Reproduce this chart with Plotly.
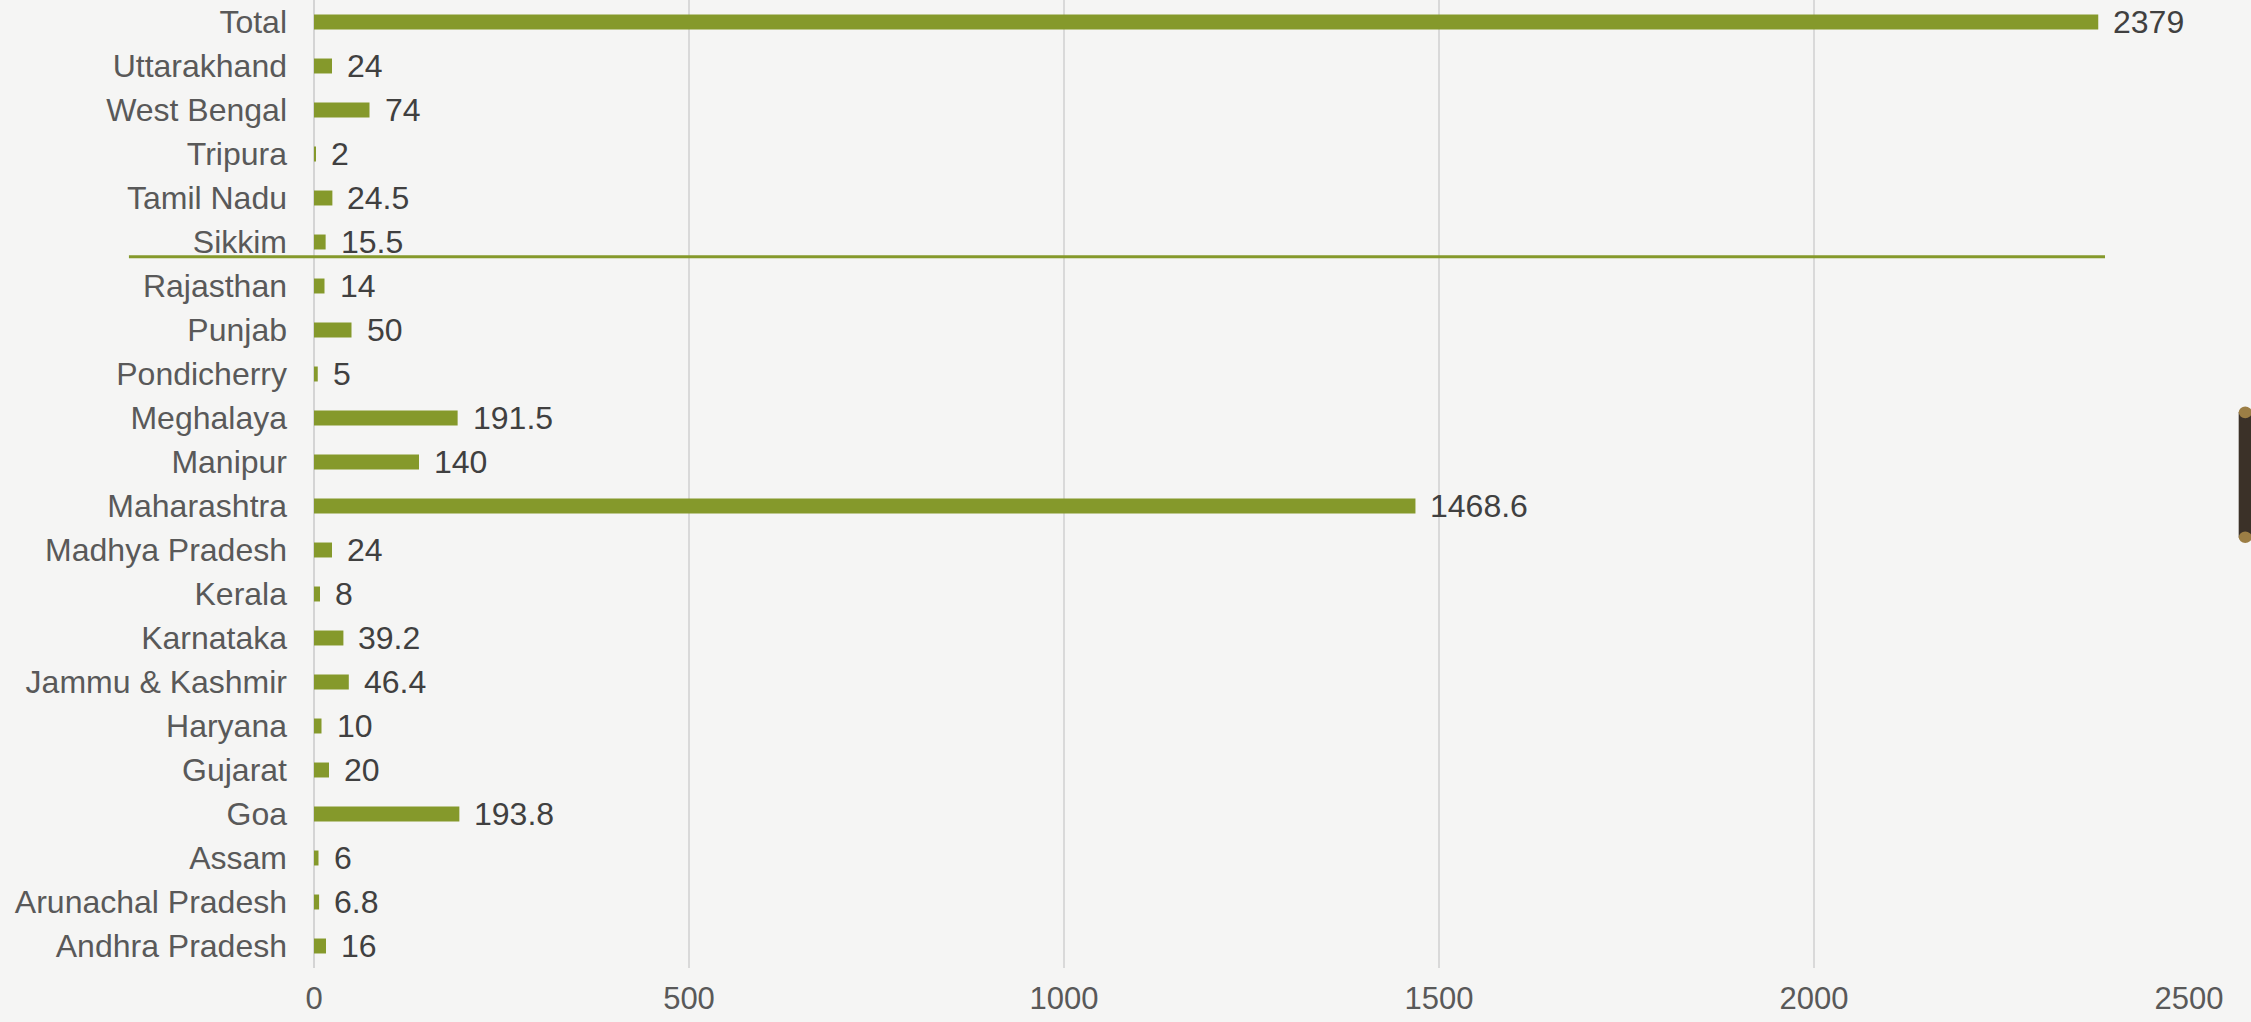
import plotly.graph_objects as go

categories = ["Andhra Pradesh", "Arunachal Pradesh", "Assam", "Goa", "Gujarat", "Haryana",
              "Jammu & Kashmir", "Karnataka", "Kerala", "Madhya Pradesh", "Maharashtra",
              "Manipur", "Meghalaya", "Pondicherry", "Punjab", "Rajasthan", "Sikkim",
              "Tamil Nadu", "Tripura", "West Bengal", "Uttarakhand", "Total"]
values = [16, 6.8, 6, 193.8, 20, 10, 46.4, 39.2, 8, 24, 1468.6, 140, 191.5, 5, 50, 14,
          15.5, 24.5, 2, 74, 24, 2379]
value_labels = ["16", "6.8", "6", "193.8", "20", "10", "46.4", "39.2", "8", "24", "1468.6",
                "140", "191.5", "5", "50", "14", "15.5", "24.5", "2", "74", "24", "2379"]
x_ticks = [0, 500, 1000, 1500, 2000, 2500]

GREEN = "#85992B"
FONT = "Liberation Sans, Arial, sans-serif"

fig = go.Figure()
fig.add_trace(go.Bar(
    y=categories, x=values, orientation="h",
    marker=dict(color=GREEN, line=dict(width=0)),
    width=0.34, hoverinfo="x+y",
))

annotations = []
for c, v, t in zip(categories, values, value_labels):
    annotations.append(dict(x=v, y=c, xref="x", yref="y", text=t, showarrow=False,
                            xanchor="left", yanchor="middle", xshift=13,
                            font=dict(family=FONT, size=32, color="#404040")))

shapes = [
    # decorative horizontal rule
    dict(type="line", xref="paper", yref="paper", x0=-0.0987, x1=0.9552, y0=0.7348, y1=0.7348,
         line=dict(color=GREEN, width=3), layer="above"),
    # scroll handle at right edge
    dict(type="rect", xref="paper", yref="paper", x0=1.0265, x1=1.0335, y0=0.445, y1=0.574,
         fillcolor="#3b3128", line=dict(width=0), layer="above"),
    dict(type="circle", xref="paper", yref="paper", x0=1.0265, x1=1.0335, y0=0.568, y1=0.580,
         fillcolor="#9c7e45", line=dict(width=0), layer="above"),
    dict(type="circle", xref="paper", yref="paper", x0=1.0265, x1=1.0335, y0=0.439, y1=0.451,
         fillcolor="#9c7e45", line=dict(width=0), layer="above"),
]

fig.update_layout(
    width=2251, height=1022,
    margin=dict(l=314, r=62, t=0, b=54),
    paper_bgcolor="#f5f5f4", plot_bgcolor="#f5f5f4",
    font=dict(family=FONT, size=32, color="#595959"),
    showlegend=False,
    annotations=annotations,
    shapes=shapes,
    xaxis=dict(range=[0, 2500], tickvals=x_ticks, ticktext=[str(t) for t in x_ticks],
               automargin=False,
               showgrid=True, gridcolor="#d9d9d9", gridwidth=1.5,
               zeroline=True, zerolinecolor="#d4d4d4", zerolinewidth=2,
               showline=False, ticks="", ticklabelstandoff=9,
               tickfont=dict(family=FONT, size=31, color="#595959")),
    yaxis=dict(type="category", categoryorder="array", categoryarray=categories,
               automargin=False,
               range=[-0.5, 21.5], showgrid=False, zeroline=False, showline=False,
               ticks="", ticklabelstandoff=26,
               tickfont=dict(family=FONT, size=32, color="#595959")),
)

fig.write_html("out.html")
